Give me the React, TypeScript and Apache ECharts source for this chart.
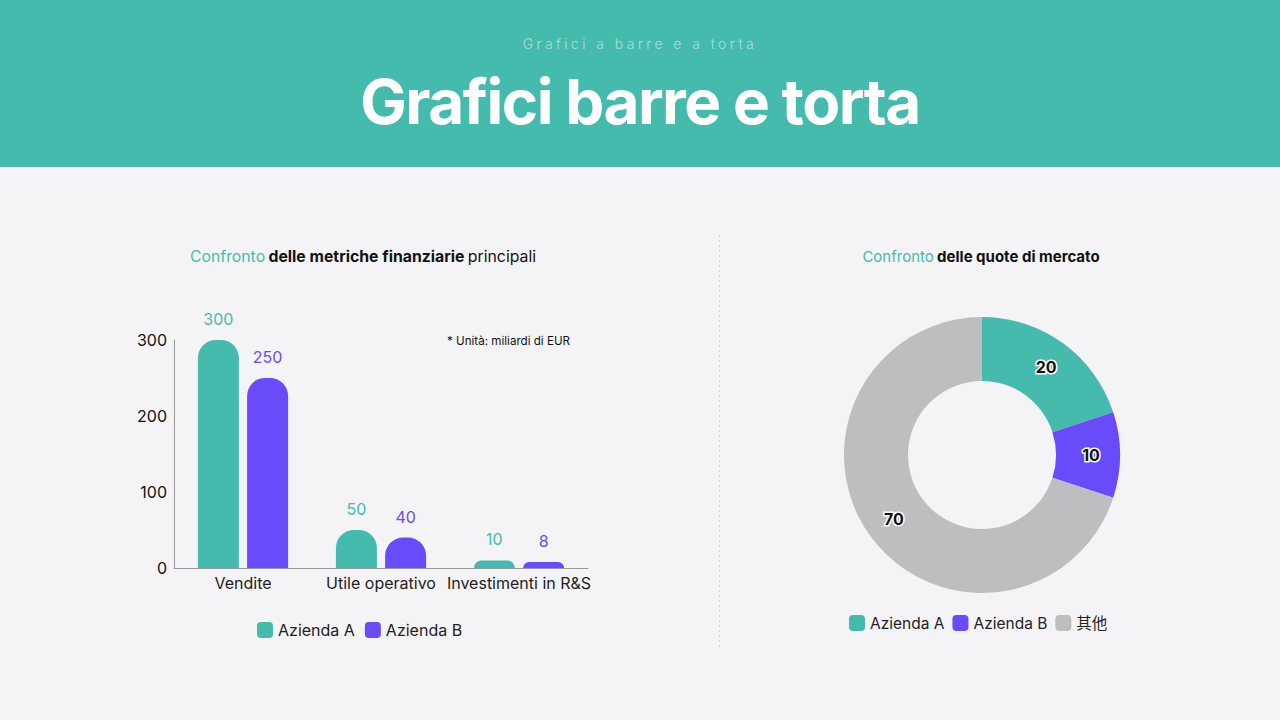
import React, { useRef, useEffect } from "react";
import * as echarts from "echarts";

const categories = ["Vendite", "Utile operativo", "Investimenti in R&S"];
const companyA = [300, 50, 10];
const companyB = [250, 40, 8];
const yTicks = [0, 100, 200, 300];
const shareNames = ["Azienda A", "Azienda B", "其他"];
const shareValues = [20, 10, 70];

const TEAL = "#45BBAD";
const PURPLE = "#6A4BFA";
const GREY = "#BEBDBF";
const FONT = "Inter, 'Noto Sans', 'Noto Sans CJK SC', sans-serif";

const App = function () {
  const chart = useRef<HTMLDivElement>(null);

  useEffect(() => {
    document.body.style.margin = "0";
    if (!chart.current) return;
    const myChart = echarts.init(chart.current, null, { renderer: "svg" });
    const option = {
      animation: false,
      backgroundColor: "#F4F4F7",
      textStyle: { fontFamily: FONT },
      graphic: [
        {
          type: "line",
          shape: { x1: 719.5, y1: 68, x2: 719.5, y2: 483 },
          style: { stroke: "#D4D4D8", lineWidth: 1, lineDash: [2, 3] },
        },
        {
          type: "text",
          x: 363,
          y: 89,
          style: {
            text: "{a|Confronto} {b|delle metriche finanziarie} {c|principali}",
            align: "center",
            verticalAlign: "middle",
            rich: {
              a: { fontSize: 15.8, fill: TEAL, fontFamily: FONT },
              b: { fontSize: 15.8, fill: "#111", fontWeight: "bold", fontFamily: FONT },
              c: { fontSize: 15.8, fill: "#111", fontFamily: FONT },
            },
          },
        },
        {
          type: "text",
          x: 981,
          y: 89,
          style: {
            text: "{a|Confronto} {b|delle quote di mercato}",
            align: "center",
            verticalAlign: "middle",
            rich: {
              a: { fontSize: 15, fill: TEAL, fontFamily: FONT },
              b: { fontSize: 15, fill: "#111", fontWeight: "bold", fontFamily: FONT },
            },
          },
        },
        {
          type: "text",
          x: 447,
          y: 174,
          style: {
            text: "* Unità: miliardi di EUR",
            fontSize: 11.6,
            fill: "#111",
            fontFamily: FONT,
            verticalAlign: "middle",
          },
        },
      ],
      legend: [
        {
          data: ["Azienda A", "Azienda B"],
          left: 257,
          top: 455,
          padding: 0,
          icon: "roundRect",
          itemWidth: 16,
          itemHeight: 16,
          itemGap: 10,
          textStyle: { fontSize: 16, color: "#222", fontFamily: FONT },
        },
        {
          data: shareNames,
          left: 849,
          top: 448,
          padding: 0,
          icon: "roundRect",
          itemWidth: 16,
          itemHeight: 16,
          itemGap: 8,
          textStyle: { fontSize: 15.5, color: "#222", fontFamily: FONT },
        },
      ],
      grid: {
        left: 174,
        right: 692,
        top: 173,
        bottom: 152,
        containLabel: false,
      },
      xAxis: {
        type: "category",
        data: categories,
        axisLine: { lineStyle: { color: "#9A9A9A" } },
        axisTick: { show: false },
        axisLabel: { interval: 0, fontSize: 16, color: "#222", margin: 7, fontFamily: FONT },
      },
      yAxis: {
        type: "value",
        min: yTicks[0],
        max: yTicks[yTicks.length - 1],
        interval: 100,
        axisLine: { show: true, lineStyle: { color: "#9A9A9A" } },
        axisTick: { show: false },
        splitLine: { show: false },
        axisLabel: { fontSize: 16, color: "#111", margin: 7, fontFamily: FONT },
      },
      series: [
        {
          name: "Azienda A",
          type: "bar",
          data: companyA,
          barWidth: 41,
          barGap: "20%",
          itemStyle: { color: TEAL, borderRadius: [18, 18, 0, 0] },
          label: {
            show: true,
            position: "top",
            distance: 13,
            fontSize: 16,
            color: TEAL,
            fontFamily: FONT,
          },
        },
        {
          name: "Azienda B",
          type: "bar",
          data: companyB,
          barWidth: 41,
          itemStyle: { color: PURPLE, borderRadius: [18, 18, 0, 0] },
          label: {
            show: true,
            position: "top",
            distance: 13,
            fontSize: 16,
            color: PURPLE,
            fontFamily: FONT,
          },
        },
        {
          name: "Quote",
          type: "pie",
          center: [982, 288],
          radius: [74, 138],
          startAngle: 90,
          clockwise: true,
          color: [TEAL, PURPLE, GREY],
          data: shareNames.map((n, i) => ({ name: n, value: shareValues[i] })),
          label: {
            show: true,
            position: "inside",
            formatter: "{c}",
            fontSize: 16,
            fontWeight: "bold",
            color: "#111",
            textBorderColor: "#fff",
            textBorderWidth: 3,
            fontFamily: FONT,
          },
          labelLine: { show: false },
          emphasis: { disabled: true },
        },
      ],
    };
    myChart.setOption(option);
    return () => {
      myChart.dispose();
    };
  }, []);

  return (
    <div
      style={{
        position: "fixed",
        left: 0,
        top: 0,
        width: 1280,
        height: 720,
        background: "#F4F4F7",
        fontFamily: FONT,
      }}
    >
      <div
        style={{
          height: 167,
          background: TEAL,
          position: "relative",
          textAlign: "center",
        }}
      >
        <div
          style={{
            position: "absolute",
            top: 35,
            left: 0,
            right: 0,
            fontSize: 14,
            lineHeight: "18px",
            letterSpacing: "3.4px",
            color: "rgba(255,255,255,0.55)",
            fontWeight: 300,
          }}
        >
          Grafici a barre e a torta
        </div>
        <div
          style={{
            position: "absolute",
            top: 66,
            left: 0,
            right: 0,
            fontSize: 62,
            lineHeight: "72px",
            letterSpacing: "-1.5px",
            color: "#fff",
            fontWeight: 700,
          }}
        >
          Grafici barre e torta
        </div>
      </div>
      <div ref={chart} style={{ width: 1280, height: 553 }}></div>
    </div>
  );
};

export default App;
